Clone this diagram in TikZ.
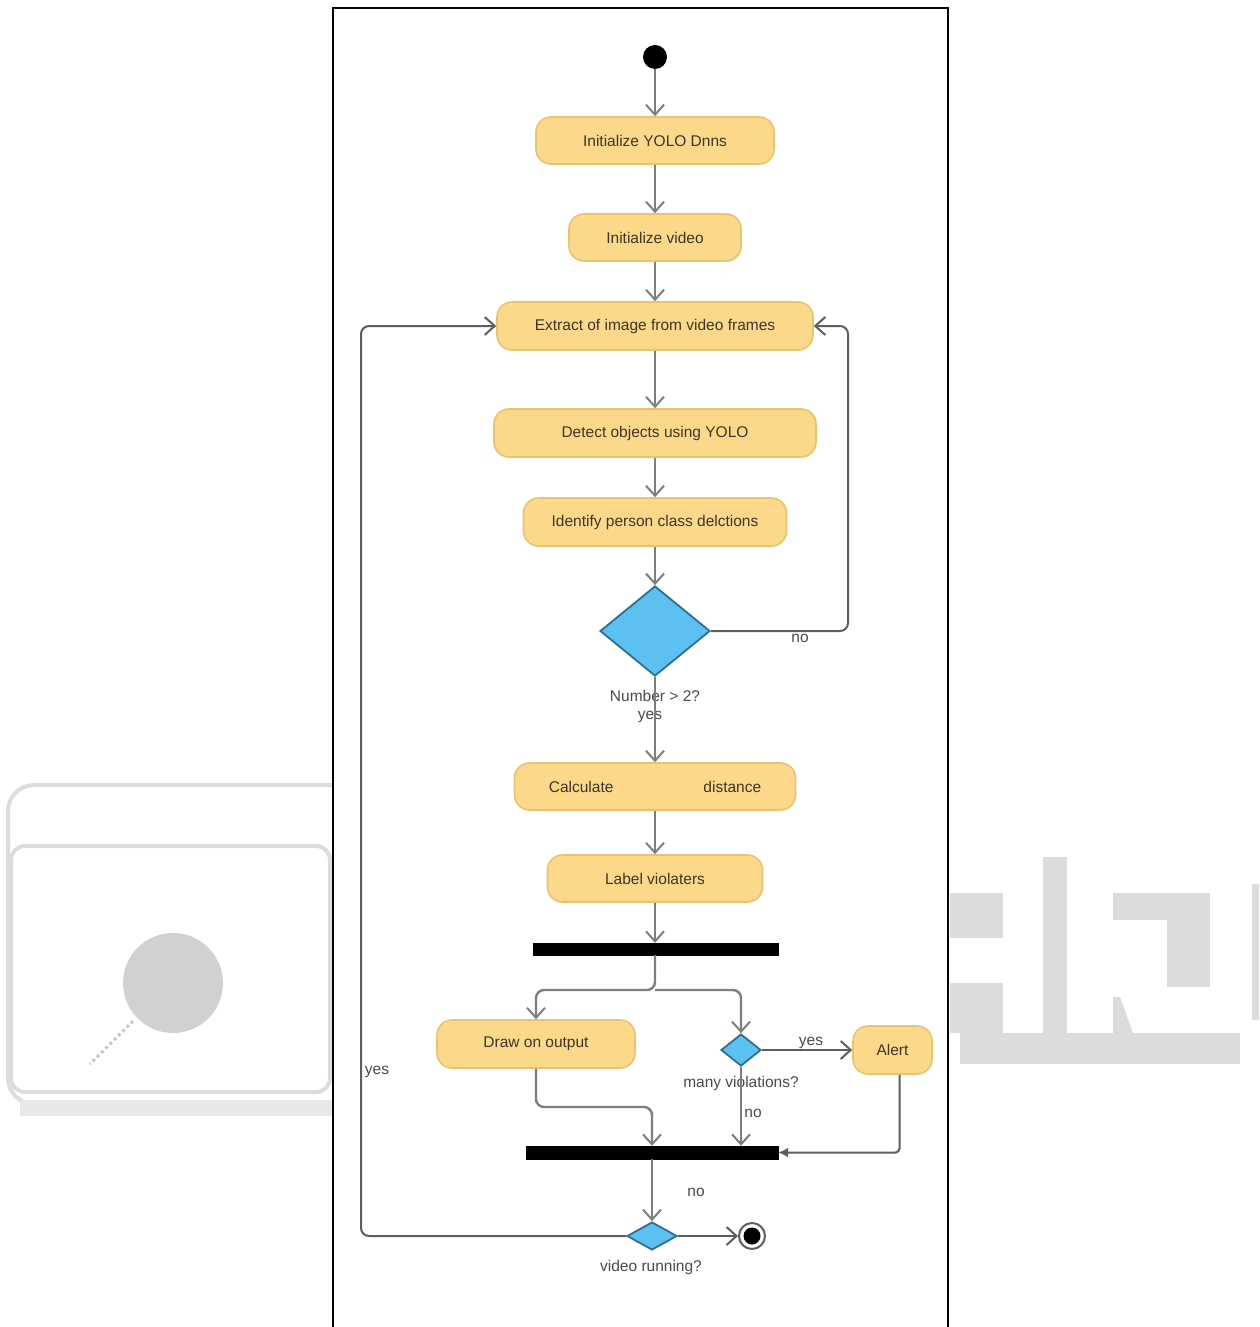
\documentclass[tikz,border=0pt]{standalone}
\usepackage{fontspec}
\setmainfont{Liberation Sans}
\usetikzlibrary{shapes.geometric,arrows.meta}

\definecolor{actfill}{HTML}{FCD98A}
\definecolor{actline}{HTML}{E9C36E}
\definecolor{acttext}{HTML}{3E3526}
\definecolor{decfill}{HTML}{5CC1F1}
\definecolor{decline}{HTML}{2F6F8F}
\definecolor{flowgray}{HTML}{7E7E7E}
\definecolor{loopgray}{HTML}{5E5E5E}
\definecolor{labgray}{HTML}{4A4A4A}
\definecolor{markgray}{HTML}{DCDCDC}

\tikzset{
  activity/.style={rectangle, rounded corners=15pt, fill=actfill, draw=actline,
    line width=1.6pt, text=acttext, inner sep=0pt,
    font=\fontsize{15.5}{18}\selectfont},
  decision/.style={diamond, fill=decfill, draw=decline, line width=1.8pt, inner sep=0pt},
  bar/.style={rectangle, fill=black, draw=black, inner sep=0pt},
  guard/.style={text=labgray, inner sep=0pt, font=\fontsize{15.5}{18}\selectfont},
  flow/.style={draw=flowgray, line width=2.4pt, rounded corners=8pt,
    -{Straight Barb[length=10pt,width=18pt,line width=2pt]}},
  loopflow/.style={draw=loopgray, line width=2pt, rounded corners=8pt,
    -{Straight Barb[length=10pt,width=18pt,line width=2pt]}},
  joinflow/.style={draw=loopgray, line width=2pt, rounded corners=4pt,
    -{Latex[length=10pt,width=10pt]}},
  logomark/.style={fill=markgray, draw=none}
}

\begin{document}
\begin{tikzpicture}[x=1pt,y=-1pt]
\useasboundingbox (0,0) rectangle (1259,1327);

% ---- faint logo marks in the background ----
\draw[markgray, line width=4pt, rounded corners=26pt] (8,785) rectangle (360,1104);
\draw[markgray, line width=4pt, rounded corners=14pt] (11,846) rectangle (330,1092);
\fill[markgray!70] (20,1100) rectangle (340,1116);
\fill[markgray!95!black] (173,983) circle (50);
\draw[markgray!90!black, line width=3pt, dashed] (133,1021) -- (90,1064);
\fill[logomark] (950,893) rectangle (1003,938);
\fill[logomark] (950,983) rectangle (1003,1033);
\fill[logomark] (1043,857) rectangle (1067,1033);
\fill[logomark] (960,1033) rectangle (1240,1064);
\fill[logomark] (1113,893) rectangle (1210,920);
\fill[logomark] (1167,920) rectangle (1210,987);
\fill[logomark] (1113,997) -- (1120,997) -- (1133,1033) -- (1113,1033) -- cycle;
\fill[logomark] (1252,884) rectangle (1259,1020);

% ---- frame ----
\fill[white] (333,8) rectangle (948,1327);
\draw[black, line width=2.4pt] (333,1327) -- (333,8) -- (948,8) -- (948,1327);

% ---- nodes ----
\node[circle, fill=black, minimum size=24pt, inner sep=0pt] (start) at (655,57) {};
\node[activity, minimum width=238pt, minimum height=47pt] (init) at (655,140.5) {Initialize YOLO Dnns};
\node[activity, minimum width=172pt, minimum height=47pt] (video) at (655,237.5) {Initialize video};
\node[activity, minimum width=316pt, minimum height=48pt] (extract) at (655,326) {Extract of image from video frames};
\node[activity, minimum width=322pt, minimum height=48pt] (detect) at (655,433) {Detect objects using YOLO};
\node[activity, minimum width=263pt, minimum height=48pt] (ident) at (655,522) {Identify person class delctions};
\node[decision, minimum width=110pt, minimum height=90pt] (count) at (655,631) {};
\node[activity, minimum width=281pt, minimum height=47pt] (calc) at (655,786.5) {Calculate\hspace{90pt}distance};
\node[activity, minimum width=215pt, minimum height=47pt] (label) at (655,878.5) {Label violaters};
\node[bar, minimum width=245pt, minimum height=12pt] (fork) at (655.5,949) {};
\node[activity, minimum width=198pt, minimum height=48pt] (draw) at (536,1044) {Draw on output};
\node[decision, minimum width=40pt, minimum height=32pt] (many) at (741,1050) {};
\node[activity, minimum width=79pt, minimum height=48pt] (alert) at (892.5,1050) {Alert};
\node[bar, minimum width=252pt, minimum height=13pt] (join) at (652,1152.5) {};
\node[decision, minimum width=50pt, minimum height=28pt] (running) at (652,1236) {};
\node[circle, fill=white, draw=loopgray, line width=2pt, minimum size=26pt, inner sep=0pt] (finish) at (752,1236) {};
\node[circle, fill=black, minimum size=17pt, inner sep=0pt] (finishdot) at (752,1236) {};

% ---- guard and decision labels ----
\node[guard] (countq) at (655,696) {Number > 2?};
\node[guard] (countyes) at (650,717) {yes};
\node[guard] (countno) at (800,638) {no};
\node[guard] (manyq) at (741,1083) {many violations?};
\node[guard] (manyyes) at (811,1043) {yes};
\node[guard] (manyno) at (753,1113) {no};
\node[guard] (runno) at (696,1192) {no};
\node[guard] (runq) at (651,1267) {video running?};
\node[guard] (runyes) at (377,1072) {yes};

% ---- corner points of the bent connectors ----
\coordinate (noturn) at (848,631);
\coordinate (split) at (655,990);
\coordinate (drawturn) at (536,1107);
\coordinate (yesturn) at (361,1236);

% ---- connectors ----
\draw[flow] (start) -- (init);
\draw[flow] (init) -- (video);
\draw[flow] (video) -- (extract);
\draw[flow] (extract) -- (detect);
\draw[flow] (detect) -- (ident);
\draw[flow] (ident) -- (count);
\draw[flow] (count.south) -- (calc.north);
\draw[loopflow] (count.east) -- (noturn) |- (extract.east);
\draw[flow] (calc) -- (label);
\draw[flow] (label.south) -- (label.south |- fork.north);
\draw[flow] (fork.south -| label.south) -- (split) -| (draw.north);
\draw[flow] (split) -| (many.north);
\draw[loopflow] (many.east) -- (alert.west);
\draw[flow] (many.south) -- (many.south |- join.north);
\draw[flow] (draw.south) -- (drawturn) -| (join.north);
\draw[joinflow] ([xshift=7pt]alert.south) |- (join.east);
\draw[flow] (join.south) -- (running.north);
\draw[loopflow] (running.east) -- (finish.west);
\draw[loopflow] (running.west) -- (yesturn) |- (extract.west);
\end{tikzpicture}
\end{document}
